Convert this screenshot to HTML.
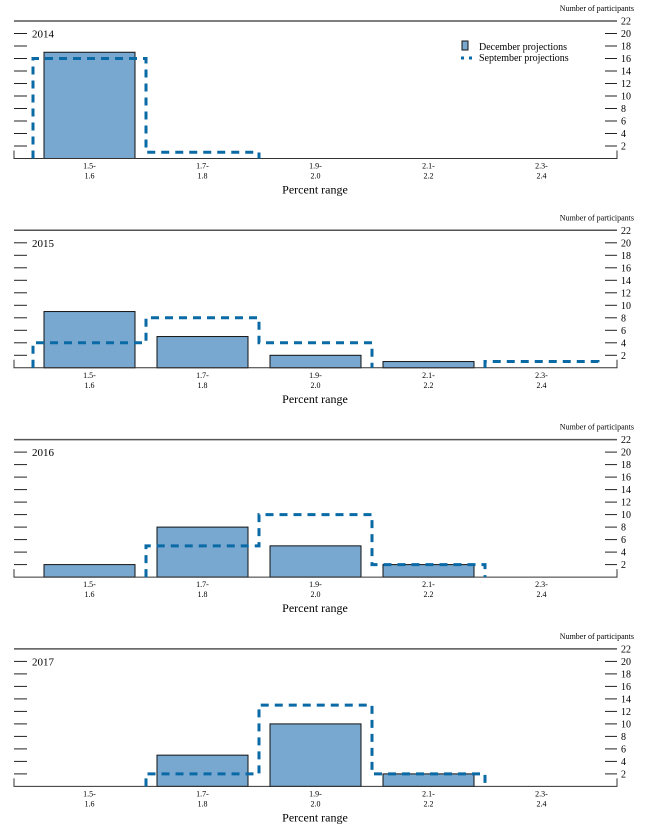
<!DOCTYPE html>
<html><head><meta charset="utf-8"><style>
body{margin:0;background:#fff;}
svg{display:block;font-family:"Liberation Serif",serif;}
</style></head><body>
<svg id="c" width="647" height="829"></svg>
<script>
const years=["2014","2015","2016","2017"];
const categoriesTop=["1.5-","1.7-","1.9-","2.1-","2.3-"];
const categoriesBot=["1.6","1.8","2.0","2.2","2.4"];
const dec2014=[17,0,0,0,0], sep2014=[16,1,0,0,0];
const dec2015=[9,5,2,1,0], sep2015=[4,8,4,0,1];
const dec2016=[2,8,5,2,0], sep2016=[0,5,10,2,0];
const dec2017=[0,5,10,2,0], sep2017=[0,2,13,2,0];
const yTicks=[2,4,6,8,10,12,14,16,18,20,22];
const decData=[dec2014,dec2015,dec2016,dec2017];
const sepData=[sep2014,sep2015,sep2016,sep2017];

const NS="http://www.w3.org/2000/svg";
const svg=document.getElementById('c');
function mk(tag,attrs,parent,text){const e=document.createElementNS(NS,tag);for(const k in attrs)e.setAttribute(k,attrs[k]);if(text!==undefined)e.textContent=text;(parent||svg).appendChild(e);return e;}
const L=14,R=617,catW=113,x0=33;
function xc(i){return x0+catW*i+catW/2;}
function xl(i){return x0+catW*i;}
years.forEach((yr,p)=>{
  const off=p*209.3;
  const base=158.5+off, top=21+off;
  const yS=v=>base-v*(base-top)/22;
  const g=mk('g',{});
  
  
  let t=mk('text',{x:634,y:11+off,'font-size':8,'text-anchor':'end'},g,'Number of participants');
  
  let tl=mk('line',{x1:L,x2:R,y1:top,y2:top,stroke:'#555','stroke-width':1.5},g);
  
  yTicks.forEach(v=>{
    const y=yS(v);
    if(v<22){const a=mk('line',{x1:L,x2:L+13,y1:y,y2:y,stroke:'#222','stroke-width':1},g);
      
      const b=mk('line',{x1:605,x2:617,y1:y,y2:y,stroke:'#222','stroke-width':1},g);
      }
    const lt=mk('text',{x:621,y:y+3.5,'font-size':10},g,String(v));
    
  });
  const yt=mk('text',{x:32,y:yS(20)+4,'font-size':11},g,yr);
  
  decData[p].forEach((v,i)=>{if(v>0){const r=mk('rect',{x:xl(i)+11,y:yS(v),width:91,height:base-yS(v),fill:'#78a8d0',stroke:'#111','stroke-width':1},g);
    }});
  const bl=mk('path',{d:`M${L},${base-8}V${base}H${R}V${base-8}`,fill:'none',stroke:'#333','stroke-width':1},g);
  
  const s=sepData[p];let d='';let inRun=false;
  for(let i=0;i<s.length;i++){
    if(s[i]>0){
      if(!inRun){d+=`M${xl(i)},${base}V${yS(s[i])}`;inRun=true;}
      else d+=`V${yS(s[i])}`;
      d+=`H${xl(i+1)}`;
    } else if(inRun){d+=`V${base}`;inRun=false;}
  }
  if(inRun)d+=`V${base}`;
  const sp=mk('path',{d:d,fill:'none',stroke:'#0a6aa6','stroke-width':3,'stroke-dasharray':'8,6'},g);
  
  categoriesTop.forEach((c,i)=>{
    const a=mk('text',{x:xc(i),y:base+10,'font-size':8,'text-anchor':'middle'},g,c);
    
    const b=mk('text',{x:xc(i),y:base+20,'font-size':8,'text-anchor':'middle'},g,categoriesBot[i]);
    
  });
  const xt=mk('text',{x:315,y:base+35,'font-size':12,'text-anchor':'middle'},g,'Percent range');
  
  if(p===0){
    const lg=mk('g',{},g);
    const sq=mk('rect',{x:462,y:41,width:6,height:9,fill:'#78a8d0',stroke:'#111'},lg);
    
    const t1=mk('text',{x:479,y:50,'font-size':10},lg,'December projections');
    
    const dl=mk('line',{x1:461,x2:472,y1:58,y2:58,stroke:'#0a6aa6','stroke-width':3,'stroke-dasharray':'3,5'},lg);
    
    const t2=mk('text',{x:479,y:61,'font-size':10},lg,'September projections');
    
  }
});
</script>
</body></html>
